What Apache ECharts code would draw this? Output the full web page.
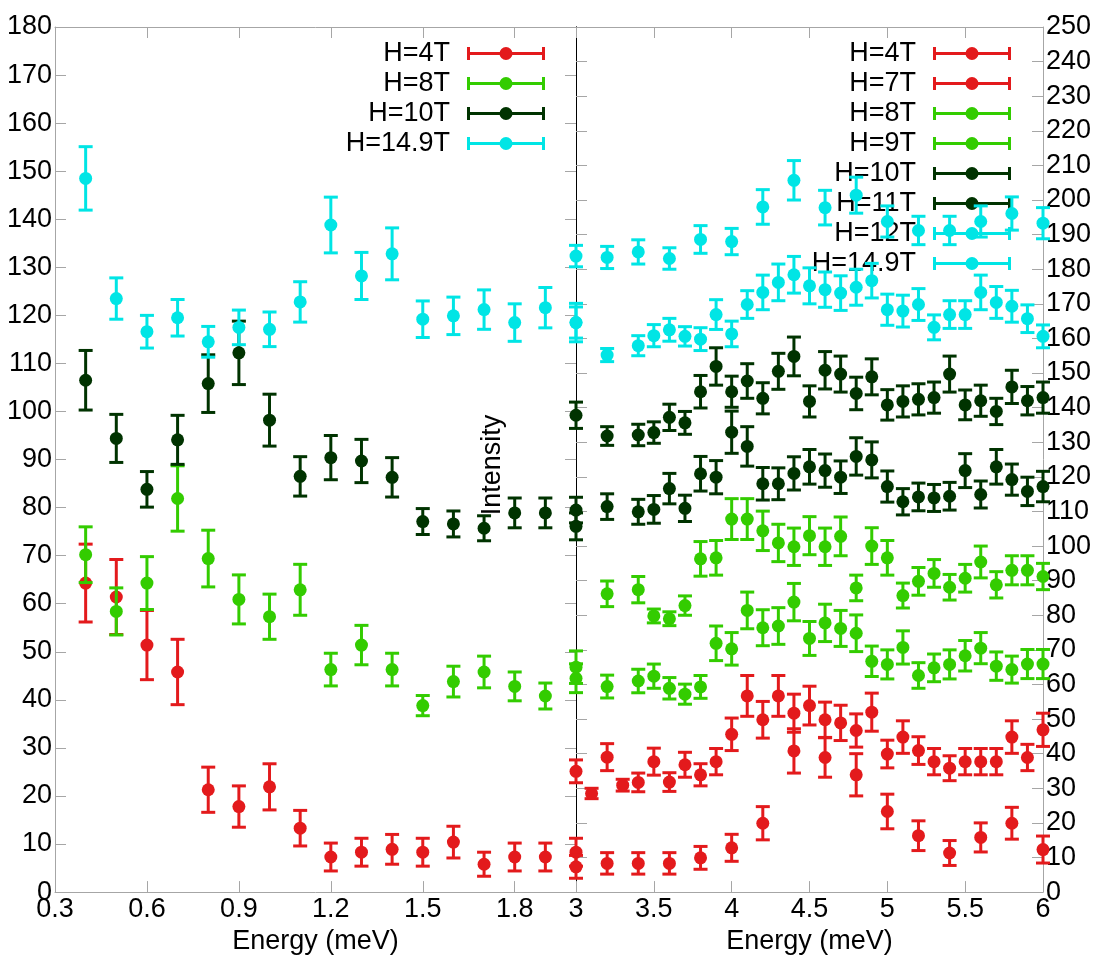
<!DOCTYPE html>
<html>
<head>
<meta charset="utf-8">
<script src="https://cdn.jsdelivr.net/npm/echarts@6/dist/echarts.min.js"></script>
<style>
html,body{margin:0;padding:0;background:#fff;}
#chart{width:1097px;height:960px;}
</style>
</head>
<body>
<div id="chart"></div>
<script>
// ---------------- DATA ----------------
// Left panel (Energy 0.3 - 2.0 meV), left intensity scale
const leftX = [0.4, 0.5, 0.6, 0.7, 0.8, 0.9, 1.0, 1.1, 1.2, 1.3, 1.4, 1.5, 1.6, 1.7, 1.8, 1.9, 2.0];
const leftH4 = [64.3, 61.4, 51.4, 45.8, 21.3, 17.8, 21.9, 13.3, 7.3, 8.3, 8.9, 8.3, 10.4, 5.8, 7.3, 7.3, 8.3];
const leftH4Err = [8.1, 7.8, 7.2, 6.8, 4.7, 4.3, 4.8, 3.7, 2.9, 2.9, 3.1, 2.9, 3.3, 2.5, 2.9, 2.9, 2.9];
const leftH8 = [70.2, 58.4, 64.3, 81.9, 69.4, 60.9, 57.3, 62.9, 46.3, 51.4, 46.3, 38.8, 43.8, 45.8, 42.8, 40.8, 44.5];
const leftH8Err = [5.8, 4.9, 5.5, 6.8, 5.9, 5.1, 4.7, 5.3, 3.4, 4.1, 3.4, 2.1, 3.2, 3.3, 3.0, 2.7, 3.0];
const leftH10 = [106.5, 94.4, 83.8, 94.1, 105.8, 112.2, 98.2, 86.5, 90.4, 89.7, 86.3, 77.1, 76.6, 75.7, 78.9, 78.9, 76.1];
const leftH10Err = [6.2, 5.0, 3.7, 5.1, 6.0, 6.6, 5.4, 4.1, 4.6, 4.5, 4.1, 2.7, 2.7, 2.6, 3.1, 3.1, 2.8];
const leftH149 = [148.5, 123.5, 116.6, 119.5, 114.5, 117.5, 117.1, 122.8, 138.8, 128.2, 132.8, 119.2, 119.9, 121.2, 118.5, 121.6, 118.5];
const leftH149Err = [6.6, 4.3, 3.4, 3.8, 3.2, 3.6, 3.6, 4.2, 5.8, 4.9, 5.4, 3.8, 3.9, 4.1, 3.9, 4.2, 4.0];

// Right panel (Energy 3 - 6 meV), right intensity scale
const rightXStep01 = [3.0, 3.1, 3.2, 3.3, 3.4, 3.5, 3.6, 3.7, 3.8, 3.9, 4.0, 4.1, 4.2, 4.3, 4.4, 4.5, 4.6, 4.7, 4.8, 4.9, 5.0, 5.1, 5.2, 5.3, 5.4, 5.5, 5.6, 5.7, 5.8, 5.9, 6.0];
const rightXStep02 = [3.0, 3.2, 3.4, 3.6, 3.8, 4.0, 4.2, 4.4, 4.6, 4.8, 5.0, 5.2, 5.4, 5.6, 5.8, 6.0];
const rightXMixed = [3.0, 3.2, 3.4, 3.5, 3.6, 3.7, 3.8, 3.9, 4.0, 4.1, 4.2, 4.3, 4.4, 4.5, 4.6, 4.7, 4.8, 4.9, 5.0, 5.1, 5.2, 5.3, 5.4, 5.5, 5.6, 5.7, 5.8, 5.9, 6.0];

const rightH4 = [7.3, 8.3, 8.3, 8.3, 9.9, 12.8, 19.9, 40.8, 38.9, 33.9, 23.3, 16.3, 11.3, 15.8, 19.9, 12.3];
const rightH4Err = [3.3, 3.1, 3.1, 3.1, 3.3, 3.9, 4.8, 6.4, 5.7, 6.1, 5.0, 4.3, 3.6, 4.2, 4.6, 3.9];
const rightH7 = [34.9, 28.5, 39.0, 30.9, 31.7, 37.7, 31.8, 36.8, 33.9, 37.7, 45.6, 56.7, 49.8, 56.7, 51.7, 53.9, 49.8, 48.9, 46.7, 52.0, 39.9, 44.8, 40.9, 37.7, 35.8, 37.7, 37.7, 37.7, 44.8, 38.9, 46.9];
const rightH7Err = [3.3, 1.5, 3.9, 1.7, 2.7, 3.9, 2.7, 3.6, 3.2, 3.8, 4.7, 5.9, 5.3, 5.9, 5.5, 5.6, 5.1, 5.1, 4.8, 5.5, 4.0, 4.7, 4.0, 3.8, 3.6, 3.8, 3.8, 3.8, 4.7, 3.8, 4.8];
const rightH8 = [65.0, 59.4, 61.0, 62.4, 58.9, 57.2, 59.3, 71.9, 70.3, 81.4, 76.4, 76.9, 83.8, 73.3, 77.8, 76.2, 74.8, 66.7, 65.8, 70.7, 62.6, 64.8, 65.8, 68.3, 70.5, 65.3, 64.3, 65.9, 65.9];
const rightH8Err = [4.7, 3.3, 3.4, 3.5, 3.1, 2.9, 3.3, 5.0, 4.7, 5.3, 5.2, 5.3, 5.4, 4.9, 5.4, 5.2, 5.3, 4.4, 4.2, 4.8, 3.7, 4.0, 4.2, 4.4, 4.5, 4.1, 3.9, 4.2, 4.2];
const rightH9 = [null, 86.2, 87.4, 79.8, 79.0, 82.8, 96.3, 96.6, 107.8, 107.8, 104.4, 100.9, 99.8, 103.0, 99.8, 102.8, 87.9, 100.0, 96.6, 85.7, 89.8, 92.1, 88.1, 90.7, 95.4, 88.8, 93.0, 93.0, 91.2];
const rightH9Err = [null, 3.7, 3.8, 2.0, 2.0, 2.8, 5.0, 5.0, 5.9, 5.9, 5.7, 5.4, 5.4, 5.5, 5.4, 5.6, 3.7, 5.3, 5.0, 3.6, 4.0, 4.0, 3.7, 4.0, 4.6, 3.8, 4.2, 4.2, 3.8];
const rightH10 = [110.4, 111.4, 109.9, 110.6, 116.6, 110.9, 120.9, 119.9, 132.9, 128.8, 118.0, 118.0, 121.0, 122.9, 121.8, 119.9, 125.9, 124.9, 117.2, 112.8, 114.2, 113.9, 114.4, 121.8, 114.9, 122.9, 119.2, 115.8, 117.2];
const rightH10Err = [3.7, 3.7, 3.6, 4.0, 4.4, 3.8, 5.0, 4.8, 6.1, 5.7, 4.7, 4.6, 4.8, 5.0, 4.8, 4.7, 5.4, 5.2, 4.5, 3.8, 4.0, 3.9, 4.0, 4.9, 3.9, 5.0, 4.5, 4.1, 4.4];
const rightH11 = [137.8, 131.8, 132.1, 132.8, 137.2, 135.6, 144.6, 151.9, 144.6, 147.7, 142.7, 150.5, 154.8, 141.8, 150.8, 149.7, 144.1, 148.9, 140.8, 141.8, 142.4, 142.9, 149.7, 140.8, 142.0, 138.9, 146.0, 142.0, 142.9];
const rightH11Err = [3.8, 2.7, 3.1, 3.1, 3.8, 3.3, 4.7, 5.4, 4.5, 5.0, 4.5, 5.2, 5.6, 4.5, 5.4, 5.2, 4.7, 5.2, 4.4, 4.5, 4.5, 4.5, 5.2, 4.3, 4.5, 3.8, 4.8, 4.1, 4.5];
const rightH12 = [183.8, 183.4, 185.0, 183.1, 188.6, 188.0, 198.0, 205.7, 197.8, 201.4, 193.8, 191.2, 191.2, 193.8, 196.1, 193.3];
const rightH12Err = [3.1, 3.2, 3.5, 3.1, 4.0, 3.8, 5.0, 5.7, 5.0, 5.2, 4.5, 4.1, 4.1, 4.5, 4.8, 4.5];
const rightH149 = [164.6, 155.2, 157.9, 160.8, 162.5, 160.6, 159.8, 166.9, 161.3, 169.8, 173.3, 176.2, 178.4, 175.2, 174.1, 173.1, 174.8, 176.7, 168.3, 167.9, 169.8, 163.2, 166.9, 166.9, 173.3, 170.4, 169.3, 165.7, 160.6];
const rightH149Err = [4.5, 1.9, 2.9, 3.2, 3.3, 2.8, 3.3, 4.3, 3.7, 4.0, 5.0, 5.3, 5.3, 5.2, 5.1, 5.0, 5.2, 5.0, 4.5, 4.6, 4.6, 3.6, 4.0, 4.0, 5.0, 4.6, 4.6, 4.0, 3.3];

const leftNames = ['H=4T', 'H=8T', 'H=10T', 'H=14.9T'];
const rightNames = ['H=4T', 'H=7T', 'H=8T', 'H=9T', 'H=10T', 'H=11T', 'H=12T', 'H=14.9T'];
const xLabelText = 'Energy (meV)';
const yLabelText = 'Intensity';

// ---------------- STYLE ----------------
const RED = '#e31a1c', GREEN = '#33cc00', DKGREEN = '#003300', CYAN = '#00e5e5';
const FONT = '"Liberation Sans", Arial, sans-serif';
const FS = 27;
const BORDER = '#a6a6a6';

function pack(xs, ys, es) {
  const out = [];
  for (let i = 0; i < xs.length; i++) {
    if (ys[i] == null) continue;
    out.push([xs[i], ys[i], es[i]]);
  }
  return out;
}

function renderErr(params, api) {
  const x = api.value(0), y = api.value(1), e = api.value(2);
  const c = api.coord([x, y]);
  const t = api.coord([x, y + e]);
  const b = api.coord([x, y - e]);
  const color = api.visual('color');
  const hw = 7;
  const ls = { stroke: color, lineWidth: 3, fill: null };
  return {
    type: 'group',
    children: [
      { type: 'line', shape: { x1: c[0], y1: t[1], x2: c[0], y2: b[1] }, style: ls },
      { type: 'line', shape: { x1: c[0] - hw, y1: t[1], x2: c[0] + hw, y2: t[1] }, style: ls },
      { type: 'line', shape: { x1: c[0] - hw, y1: b[1], x2: c[0] + hw, y2: b[1] }, style: ls },
      { type: 'circle', shape: { cx: c[0], cy: c[1], r: 6.5 }, style: { fill: color, stroke: null } }
    ]
  };
}

function errSeries(name, color, xi, yi, data) {
  return {
    type: 'custom', name: name, xAxisIndex: xi, yAxisIndex: yi,
    renderItem: renderErr, data: data, clip: false, z: 5,
    encode: { x: 0, y: 1 },
    itemStyle: { color: color },
    silent: true
  };
}

// legend icon: horizontal bar with end caps and a dot in the middle (78 x 13)
const ICON = 'path://M0 0 H3 V13 H0 Z M75 0 H78 V13 H75 Z M0 5 H78 V8 H0 Z M32.5 6.5 A6.5 6.5 0 1 1 45.5 6.5 A6.5 6.5 0 1 1 32.5 6.5 Z';

function mkLegend(names, right) {
  return {
    data: names.map(n => ({ name: n, icon: ICON })),
    orient: 'vertical', align: 'right', right: right, top: 40,
    itemWidth: 78, itemHeight: 13, itemGap: 3, padding: 0,
    selectedMode: false,
    itemStyle: { borderWidth: 0 },
    textStyle: { fontSize: FS, fontFamily: FONT, color: '#000', lineHeight: 27, padding: [0, 12, 0, 0] }
  };
}

const tickStyle = { color: BORDER, width: 1 };
function xAxisMain(grid, min, max, interval, fmt, showMax) {
  return {
    type: 'value', gridIndex: grid, position: 'bottom', min: min, max: max, interval: interval,
    axisLine: { show: true, onZero: false, lineStyle: { color: BORDER, width: 1 } },
    axisTick: { show: true, inside: true, length: 11, lineStyle: tickStyle },
    axisLabel: { show: true, color: '#000', fontSize: FS, fontFamily: FONT, margin: 4, formatter: fmt, showMaxLabel: showMax, showMinLabel: true },
    splitLine: { show: false },
    name: xLabelText, nameLocation: 'middle', nameGap: 26,
    nameTextStyle: { color: '#000', fontSize: FS, fontFamily: FONT }
  };
}
function xAxisMirror(grid, min, max, interval) {
  return {
    type: 'value', gridIndex: grid, position: 'top', min: min, max: max, interval: interval,
    axisLine: { show: true, onZero: false, lineStyle: { color: BORDER, width: 1 } },
    axisTick: { show: true, inside: true, length: 11, lineStyle: tickStyle },
    axisLabel: { show: false }, splitLine: { show: false }
  };
}
function yAxisDef(grid, pos, max, labels, lineColor) {
  return {
    type: 'value', gridIndex: grid, position: pos, min: 0, max: max, interval: 10,
    axisLine: { show: true, onZero: false, lineStyle: { color: lineColor, width: 1 } },
    axisTick: { show: true, inside: true, length: 11, lineStyle: tickStyle },
    axisLabel: { show: labels, color: '#000', fontSize: FS, fontFamily: FONT, margin: 3, showMinLabel: true, showMaxLabel: true },
    splitLine: { show: false }
  };
}

const chart = echarts.init(document.getElementById('chart'), null, { renderer: 'canvas' });
chart.setOption({
  animation: false,
  backgroundColor: '#fff',
  grid: [
    { left: 55, top: 27, width: 521, height: 877 },
    { left: 576, top: 27, width: 467, height: 877 }
  ],
  xAxis: [
    xAxisMain(0, 0.3, 2.0, 0.3, v => v.toFixed(1), false),
    xAxisMirror(0, 0.3, 2.0, 0.3),
    xAxisMain(1, 3, 6, 0.5, v => String(Math.round(v * 10) / 10), true),
    xAxisMirror(1, 3, 6, 0.5)
  ],
  yAxis: [
    yAxisDef(0, 'left', 180, true, BORDER),
    yAxisDef(0, 'right', 180, false, '#000'),
    yAxisDef(1, 'right', 250, true, BORDER),
    yAxisDef(1, 'left', 250, false, '#000')
  ],
  legend: [mkLegend(leftNames, 552), mkLegend(rightNames, 86)],
  graphic: [{
    type: 'text', x: 493, y: 465, rotation: Math.PI / 2, z: 10,
    style: { text: yLabelText, fontSize: FS, fontFamily: FONT, fill: '#000', align: 'center', verticalAlign: 'middle' }
  }],
  series: [
    errSeries('H=4T', RED, 0, 0, pack(leftX, leftH4, leftH4Err)),
    errSeries('H=8T', GREEN, 0, 0, pack(leftX, leftH8, leftH8Err)),
    errSeries('H=10T', DKGREEN, 0, 0, pack(leftX, leftH10, leftH10Err)),
    errSeries('H=14.9T', CYAN, 0, 0, pack(leftX, leftH149, leftH149Err)),
    errSeries('H=4T', RED, 2, 2, pack(rightXStep02, rightH4, rightH4Err)),
    errSeries('H=7T', RED, 2, 2, pack(rightXStep01, rightH7, rightH7Err)),
    errSeries('H=8T', GREEN, 2, 2, pack(rightXMixed, rightH8, rightH8Err)),
    errSeries('H=9T', GREEN, 2, 2, pack(rightXMixed, rightH9, rightH9Err)),
    errSeries('H=10T', DKGREEN, 2, 2, pack(rightXMixed, rightH10, rightH10Err)),
    errSeries('H=11T', DKGREEN, 2, 2, pack(rightXMixed, rightH11, rightH11Err)),
    errSeries('H=12T', CYAN, 2, 2, pack(rightXStep02, rightH12, rightH12Err)),
    errSeries('H=14.9T', CYAN, 2, 2, pack(rightXMixed, rightH149, rightH149Err))
  ]
});
</script>
</body>
</html>
